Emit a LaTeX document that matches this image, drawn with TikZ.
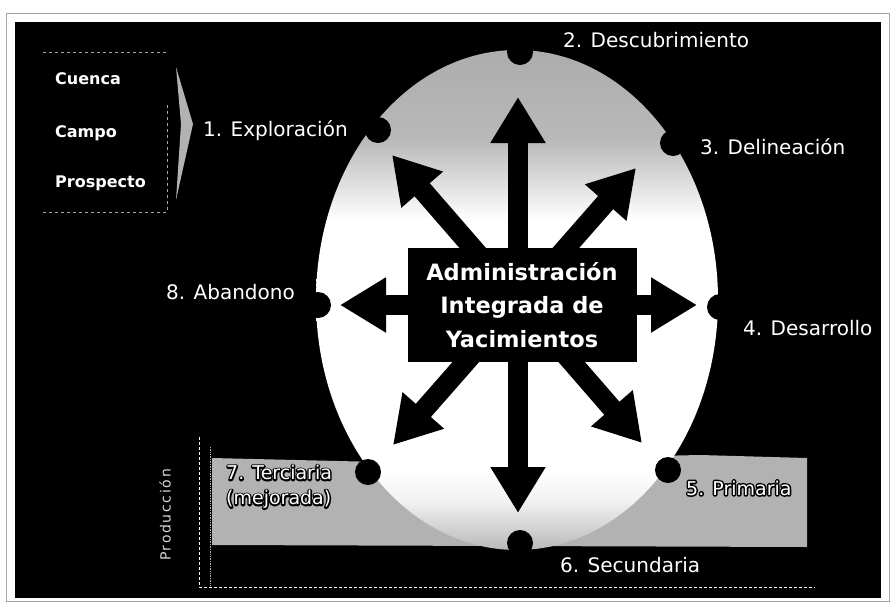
\documentclass[tikz,border=0pt]{standalone}
\usepackage{fontspec}
\setmainfont{DejaVu Sans}
\usetikzlibrary{arrows.meta,calc}
\pgfdeclareverticalshading{ellsh}{100bp}{color(0bp)=(gray!55); color(25bp)=(gray!55); color(30bp)=(gray!10); color(33bp)=(white); color(58bp)=(white); color(66bp)=(gray!55); color(75bp)=(gray!65); color(100bp)=(gray!65)}
\newcommand\strokedtext[1]{\rlap{\special{pdf:code q 0 G 0 g 2 Tr 3 w 1 j}#1\special{pdf:code Q}}#1}
\tikzset{
  lab/.style={inner sep=0pt, font=\fontsize{20}{23}\selectfont, text=white},
  olab/.style={inner sep=0pt, font=\fontsize{19}{25}\selectfont, text=white, align=left},
  smalllab/.style={inner sep=0pt, font=\fontsize{16}{19}\selectfont\bfseries, text=white},
  dotnode/.style={circle, fill=black, minimum size=26pt, inner sep=0pt},
  bigarrow/.style={line width=20pt, {Triangle[width=52pt,length=46pt]}-{Triangle[width=52pt,length=46pt]}, black},
  centerbox/.style={fill=black, text=white, minimum width=229pt, minimum height=114pt, align=center, inner sep=0pt,
     font=\fontsize{22.5}{33.5}\selectfont\bfseries},
  wdash/.style={white, densely dashed, line width=0.8pt},
}
\begin{document}
\begin{tikzpicture}[x=1pt,y=-1pt]
\useasboundingbox (0,0) rectangle (895,603);
\fill[white] (0,0) rectangle (895,603);
\draw[gray!70, line width=0.6pt] (6,13) rectangle (889,601);
\fill[black] (15,22) rectangle (881,598);

% top-left box
\draw[gray!70, dashed, line width=0.7pt] (43,52) -- (167,52);
\draw[gray!70, dashed, line width=0.7pt] (167,105) -- (167,212) -- (43,212);
\node[smalllab, anchor=west] (cuenca) at (55,79) {Cuenca};
\node[smalllab, anchor=west] (campo) at (55,133) {Campo};
\node[smalllab, anchor=west] (prosp) at (55,183) {Prospecto};
\fill[gray!60] (176,67) -- (193,124) -- (176,200) -- (181,124) -- cycle;

% production band
\fill[gray!60] (212,458) -- (380,462) -- (700,455) -- (807,458) -- (807,547) -- (212,545) -- cycle;
\draw[wdash] (199,437) -- (199,587) -- (815,587);
\draw[white!70!black, densely dotted, line width=0.7pt] (210,447) -- (210,585);
\node[inner sep=0pt, rotate=90, text=white!85!black, font=\fontsize{14}{16}\selectfont\addfontfeature{LetterSpace=12}] (prod) at (165,515) {Producción};

% ellipse
\shade[shading=ellsh] (517,300) ellipse [x radius=201, y radius=250];

% arrows
\coordinate (tN) at (518,97);
\coordinate (tS) at (518,513);
\coordinate (tW) at (340,305);
\coordinate (tE) at (697,305);
\coordinate (tNW) at (392,155);
\coordinate (tSE) at (642,443);
\coordinate (tNE) at (636,168);
\coordinate (tSW) at (393,445);
\draw[bigarrow] (tN) -- (tS);
\draw[bigarrow] (tW) -- (tE);
\draw[bigarrow] (tNW) -- (tSE);
\draw[bigarrow] (tNE) -- (tSW);

\node[centerbox] (center) at (522,305) {Administración\\Integrada de\\Yacimientos};

% dots
\node[dotnode] (d1) at (378,130) {};
\node[dotnode] (d2) at (520,52) {};
\node[dotnode] (d3) at (673,143) {};
\node[dotnode] (d4) at (720,307) {};
\node[dotnode] (d5) at (668,470) {};
\node[dotnode] (d6) at (520,543) {};
\node[dotnode] (d7) at (368,472) {};
\node[dotnode] (d8) at (318,305) {};

% labels
\node[lab, anchor=west] (l1) at (203,131) {1. Exploración};
\node[lab, anchor=west] (l2) at (563,40) {2. Descubrimiento};
\node[lab, anchor=west] (l3) at (700,147) {3. Delineación};
\node[lab, anchor=west] (l4) at (743,328) {4. Desarrollo};
\node[olab, anchor=west] (l5) at (686,488) {\strokedtext{5. Primaria}};
\node[lab, anchor=west] (l6) at (560,565) {6. Secundaria};
\node[olab, anchor=west] (l7) at (226,487) {\strokedtext{7. Terciaria}\\\strokedtext{(mejorada)}};
\node[lab, anchor=east] (l8) at (295,292) {8. Abandono};
\end{tikzpicture}
\end{document}
